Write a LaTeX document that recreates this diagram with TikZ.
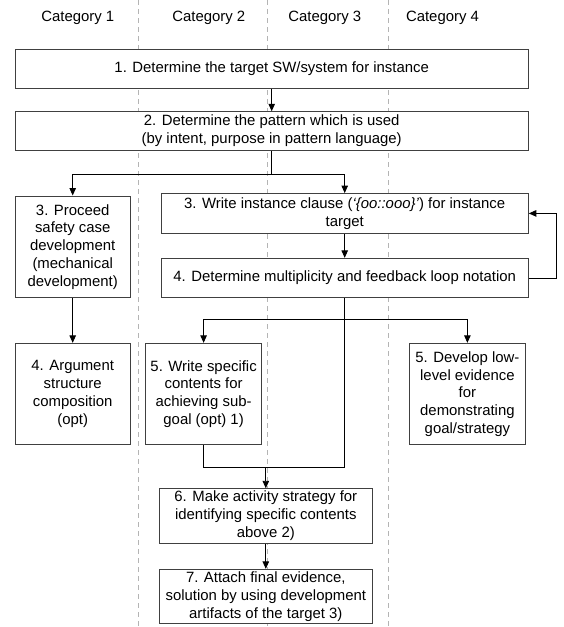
\documentclass[tikz,border=0pt]{standalone}
\usepackage{fontspec}
\setmainfont{Liberation Sans}
\usetikzlibrary{arrows.meta}
\definecolor{boxgray}{HTML}{404040}
\definecolor{lanegray}{HTML}{B4B4B4}
\begin{document}
\begin{tikzpicture}[x=1pt,y=-1pt,
  box/.style={draw=boxgray,line width=0.9pt,fill=white,inner sep=0pt,align=center,
    font=\fontsize{14.9}{17.8}\selectfont,text=black},
  conn/.style={line width=0.9pt,draw=black},
  arr/.style={conn,-{Triangle[length=7.5pt,width=6.5pt]}},
  lane/.style={draw=lanegray,line width=0.8pt,dash pattern=on 5pt off 4pt},
  cat/.style={font=\fontsize{14.9}{17.8}\selectfont,anchor=base,inner sep=0pt}]
\useasboundingbox (0,0) rectangle (563,627);
% swimlane separators
\draw[lane] (138,0) -- (138,627);
\draw[lane] (267.3,0) -- (267.3,627);
\draw[lane] (388,0) -- (388,627);
% category labels
\node[cat] (c1) at (77.8,21) {Category 1};
\node[cat] (c2) at (208.8,21) {Category 2};
\node[cat] (c3) at (324.8,21) {Category 3};
\node[cat] (c4) at (442.5,21) {Category 4};
% boxes
\node[box,minimum width=513.3pt,minimum height=39pt] (b1) at (271.7,68.8)
  {1. Determine the target SW/system for instance};
\node[box,minimum width=513.3pt,minimum height=38.6pt] (b2) at (271.7,131)
  {2. Determine the pattern which is used\\(by intent, purpose in pattern language)};
\node[box,minimum width=115.5pt,minimum height=101.7pt] (b3L) at (72.7,246.8)
  {3. Proceed\\safety case\\development\\(mechanical\\development)};
\node[box,minimum width=367.3pt,minimum height=39.8pt] (b3R) at (344.7,213.4)
  {3. Write instance clause (\textit{`\{oo::ooo\}'}) for instance\\target};
\node[box,minimum width=367.3pt,minimum height=39.4pt] (b4R) at (344.7,278)
  {4. Determine multiplicity and feedback loop notation};
\node[box,minimum width=115.5pt,minimum height=101.4pt] (b4L) at (72.7,394)
  {4. Argument\\structure\\composition\\(opt)};
\node[box,minimum width=115.8pt,minimum height=101.4pt] (b5a) at (203.6,394)
  {5. Write specific\\contents for\\achieving sub-\\goal (opt) 1)};
\node[box,minimum width=116.7pt,minimum height=101.4pt] (b5c) at (467.4,394)
  {5. Develop low-\\level evidence\\for\\demonstrating\\goal/strategy};
\node[box,minimum width=213pt,minimum height=54.3pt] (b6) at (265.8,515.9)
  {6. Make activity strategy for\\identifying specific contents\\above 2)};
\node[box,minimum width=213pt,minimum height=54.4pt] (b7) at (265.8,596.5)
  {7. Attach final evidence,\\solution by using development\\artifacts of the target 3)};
% connectors
\coordinate (j1) at (271.7,174);
\coordinate (j2) at (344.7,319.3);
\coordinate (j3) at (344.7,467.7);
\coordinate (j4) at (265.8,467.7);
\draw[arr] (b1.south) -- (b2.north);
\draw[conn] (b2.south) -- (j1);
\draw[arr] (j1) -| (b3L.north);
\draw[arr] (j1) -| (b3R.north);
\draw[arr] (b3L.south) -- (b4L.north);
\draw[arr] (b3R.south) -- (b4R.north);
\draw[arr] (b4R.east) -- ++(28,0) |- (b3R.east);
\draw[conn] (b4R.south) -- (j3);
\draw[arr] (j2) -| (b5a.north);
\draw[arr] (j2) -| (b5c.north);
\draw[conn] (b5a.south) |- (j3);
\draw[arr] (j4) -- (b6.north);
\draw[arr] (b6.south) -- (b7.north);
\end{tikzpicture}
\end{document}
